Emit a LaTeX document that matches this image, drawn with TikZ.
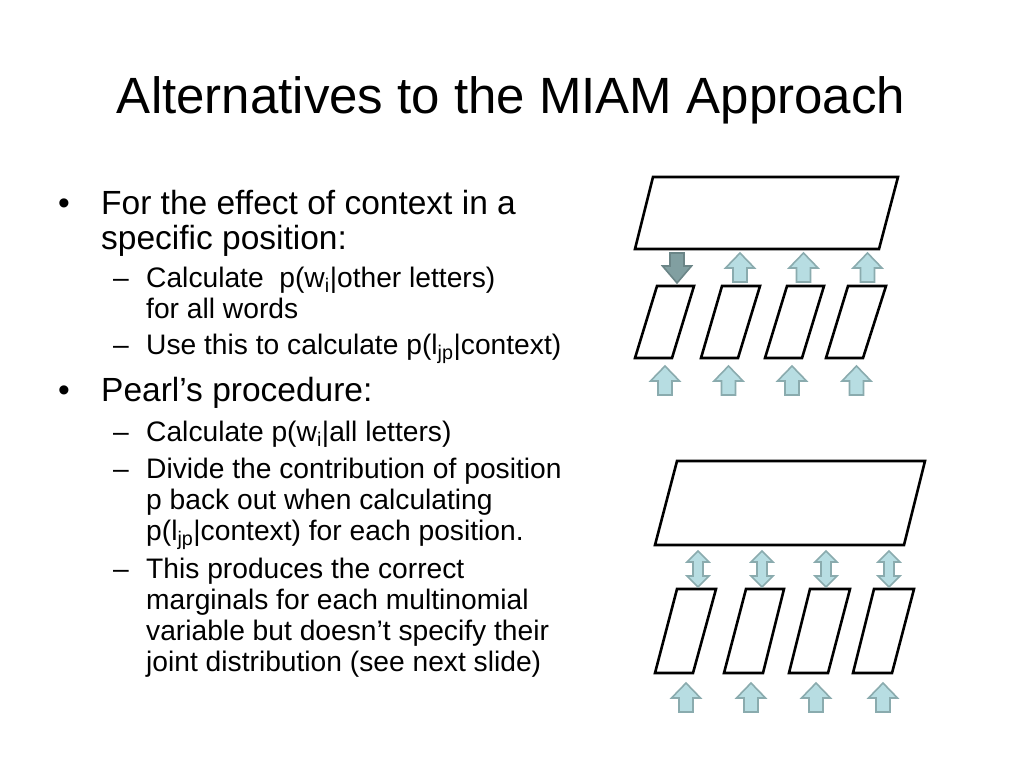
\documentclass[tikz,border=0pt]{standalone}
\usepackage{fontspec}
\setmainfont{Liberation Sans}
\usepackage{tikz}
\usepackage{xcolor}

\definecolor{arrowfill}{HTML}{B7DDE2}
\definecolor{arrowline}{HTML}{8AABAE}
\definecolor{downfill}{HTML}{819FA1}
\definecolor{downline}{HTML}{6B8587}

\begin{document}
\begin{tikzpicture}[x=1pt,y=-1pt]
\tikzstyle{every node}+=[inner sep=0pt]
\tikzstyle{box}=[black, line width=2.6pt, line join=miter]
\tikzstyle{uparrow}=[fill=arrowfill, draw=arrowline, line width=1.6pt, line join=miter]
\tikzstyle{downarrow}=[fill=downfill, draw=downline, line width=1.6pt, line join=miter]
\tikzstyle{ttl}=[anchor=base, font=\fontsize{51}{60}\selectfont]
\tikzstyle{lvlone}=[anchor=base west, font=\fontsize{33.5}{40}\selectfont]
\tikzstyle{lvltwo}=[anchor=base west, font=\fontsize{28.2}{33}\selectfont]
\fill [white] (0,0) rectangle (1024,768);
\useasboundingbox (0,0) rectangle (1024,768);
% title
\node [ttl] (title) at (511,113) {Alternatives to the MIAM Approach};
% first bullet
\node [lvlone] (b1) at (58,214) {\textbullet};
\node [lvlone] (t1a) at (101,214) {For the effect of context in a};
\node [lvlone] (t1b) at (101,249) {specific position:};
\node [lvltwo] (d1) at (113,287) {--};
\node [lvltwo] (t2a) at (146,287) {Calculate\ \ p(w\textsubscript{i}|other letters)};
\node [lvltwo] (t2b) at (146,318) {for all words};
\node [lvltwo] (d2) at (113,354) {--};
\node [lvltwo] (t3) at (146,354) {Use this to calculate p(l\textsubscript{jp}|context)};
% second bullet
\node [lvlone] (b2) at (58,401) {\textbullet};
\node [lvlone] (t4) at (101,401) {Pearl’s procedure:};
\node [lvltwo] (d3) at (113,441) {--};
\node [lvltwo] (t5) at (146,441) {Calculate p(w\textsubscript{i}|all letters)};
\node [lvltwo] (d4) at (113,478) {--};
\node [lvltwo] (t6a) at (146,478) {Divide the contribution of position};
\node [lvltwo] (t6b) at (146,509) {p back out when calculating};
\node [lvltwo] (t6c) at (146,540) {p(l\textsubscript{jp}|context) for each position.};
\node [lvltwo] (d5) at (113,578) {--};
\node [lvltwo] (t7a) at (146,578) {This produces the correct};
\node [lvltwo] (t7b) at (146,609) {marginals for each multinomial};
\node [lvltwo] (t7c) at (146,640) {variable but doesn’t specify their};
\node [lvltwo] (t7d) at (146,671) {joint distribution (see next slide)};
% upper diagram
\draw [box] (653,177) -- (898,177) -- (879,249) -- (635,249) -- cycle;
\draw [box] (657,286) -- (694,286) -- (672,358) -- (635,358) -- cycle;
\draw [box] (722,286) -- (760,286) -- (738,358) -- (701,358) -- cycle;
\draw [box] (787,286) -- (824,286) -- (802,358) -- (765,358) -- cycle;
\draw [box] (848,286) -- (886,286) -- (863,358) -- (826,358) -- cycle;
\draw [downarrow] (670,253) -- ++(14,0) -- ++(0,13) -- ++(7.5,0) -- ++(-14.5,17) -- ++(-14.5,-17) -- ++(7.5,0) -- cycle;
\draw [uparrow] (740,253) -- ++(14.5,15) -- ++(-7.5,0) -- ++(0,14) -- ++(-14,0) -- ++(0,-14) -- ++(-7.5,0) -- cycle;
\draw [uparrow] (803.5,253) -- ++(14.5,15) -- ++(-7.5,0) -- ++(0,14) -- ++(-14,0) -- ++(0,-14) -- ++(-7.5,0) -- cycle;
\draw [uparrow] (867.5,253) -- ++(14.5,15) -- ++(-7.5,0) -- ++(0,14) -- ++(-14,0) -- ++(0,-14) -- ++(-7.5,0) -- cycle;
\draw [uparrow] (665,366) -- ++(14.5,15) -- ++(-7.5,0) -- ++(0,14) -- ++(-14,0) -- ++(0,-14) -- ++(-7.5,0) -- cycle;
\draw [uparrow] (728.5,366) -- ++(14.5,15) -- ++(-7.5,0) -- ++(0,14) -- ++(-14,0) -- ++(0,-14) -- ++(-7.5,0) -- cycle;
\draw [uparrow] (792,366) -- ++(14.5,15) -- ++(-7.5,0) -- ++(0,14) -- ++(-14,0) -- ++(0,-14) -- ++(-7.5,0) -- cycle;
\draw [uparrow] (856.5,366) -- ++(14.5,15) -- ++(-7.5,0) -- ++(0,14) -- ++(-14,0) -- ++(0,-14) -- ++(-7.5,0) -- cycle;
% lower diagram
\draw [box] (677,461) -- (925,461) -- (904,545) -- (655,545) -- cycle;
\draw [box] (677,589) -- (716,589) -- (693,673) -- (655,673) -- cycle;
\draw [box] (746,589) -- (784,589) -- (763,673) -- (724,673) -- cycle;
\draw [box] (810,589) -- (850,589) -- (828,673) -- (789,673) -- cycle;
\draw [box] (874,589) -- (914,589) -- (892,673) -- (853,673) -- cycle;
\draw [uparrow] (698,551) -- ++(11,11) -- ++(-6,0) -- ++(0,14) -- ++(6,0) -- ++(-11,11) -- ++(-11,-11) -- ++(6,0) -- ++(0,-14) -- ++(-6,0) -- cycle;
\draw [uparrow] (762,551) -- ++(11,11) -- ++(-6,0) -- ++(0,14) -- ++(6,0) -- ++(-11,11) -- ++(-11,-11) -- ++(6,0) -- ++(0,-14) -- ++(-6,0) -- cycle;
\draw [uparrow] (826,551) -- ++(11,11) -- ++(-6,0) -- ++(0,14) -- ++(6,0) -- ++(-11,11) -- ++(-11,-11) -- ++(6,0) -- ++(0,-14) -- ++(-6,0) -- cycle;
\draw [uparrow] (889,551) -- ++(11,11) -- ++(-6,0) -- ++(0,14) -- ++(6,0) -- ++(-11,11) -- ++(-11,-11) -- ++(6,0) -- ++(0,-14) -- ++(-6,0) -- cycle;
\draw [uparrow] (686,683) -- ++(14.5,15) -- ++(-7.5,0) -- ++(0,14) -- ++(-14,0) -- ++(0,-14) -- ++(-7.5,0) -- cycle;
\draw [uparrow] (751,683) -- ++(14.5,15) -- ++(-7.5,0) -- ++(0,14) -- ++(-14,0) -- ++(0,-14) -- ++(-7.5,0) -- cycle;
\draw [uparrow] (816,683) -- ++(14.5,15) -- ++(-7.5,0) -- ++(0,14) -- ++(-14,0) -- ++(0,-14) -- ++(-7.5,0) -- cycle;
\draw [uparrow] (883,683) -- ++(14.5,15) -- ++(-7.5,0) -- ++(0,14) -- ++(-14,0) -- ++(0,-14) -- ++(-7.5,0) -- cycle;
\end{tikzpicture}
\end{document}
